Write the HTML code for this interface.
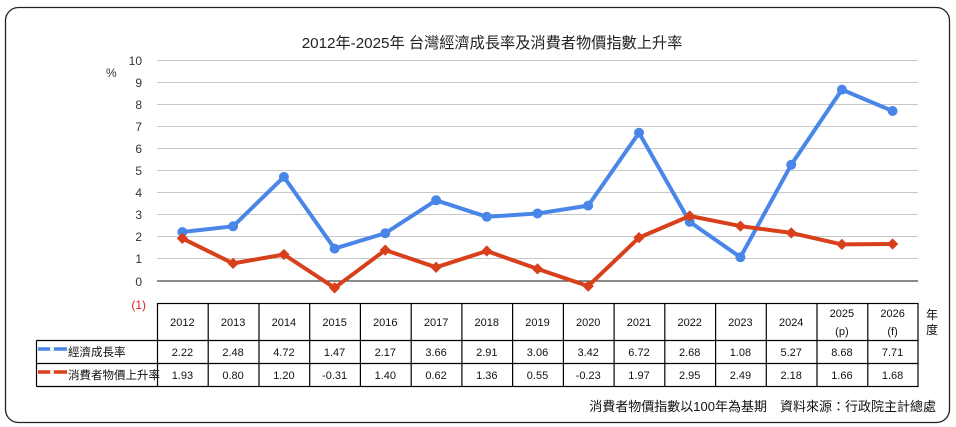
<!DOCTYPE html>
<html><head><meta charset="utf-8"><style>
body{margin:0;background:#fff;}
svg{display:block;font-family:"Liberation Sans","Noto Sans CJK TC",sans-serif;}
</style></head><body>
<svg width="956" height="427" viewBox="0 0 956 427" xmlns="http://www.w3.org/2000/svg">
<rect x="5.5" y="7.5" width="944" height="415" rx="13" fill="#fff" stroke="#222" stroke-width="1.3"/>
<text x="492" y="48" text-anchor="middle" font-size="15.2" fill="#222">2012年-2025年 台灣經濟成長率及消費者物價指數上升率</text>
<text x="106" y="77" font-size="12" fill="#333">%</text>
<g stroke="#c8c8c8" stroke-width="1">
<line x1="157" y1="60.5" x2="918" y2="60.5"/><line x1="157" y1="82.5" x2="918" y2="82.5"/>
<line x1="157" y1="104.5" x2="918" y2="104.5"/><line x1="157" y1="126.5" x2="918" y2="126.5"/>
<line x1="157" y1="148.5" x2="918" y2="148.5"/><line x1="157" y1="170.5" x2="918" y2="170.5"/>
<line x1="157" y1="192.5" x2="918" y2="192.5"/><line x1="157" y1="214.5" x2="918" y2="214.5"/>
<line x1="157" y1="236.5" x2="918" y2="236.5"/><line x1="157" y1="258.5" x2="918" y2="258.5"/>
</g>
<line x1="157" y1="281" x2="918" y2="281" stroke="#444" stroke-width="1.2"/>
<g font-size="12" fill="#333" text-anchor="end">
<text x="142" y="65">10</text><text x="142" y="87">9</text><text x="142" y="109">8</text>
<text x="142" y="131">7</text><text x="142" y="153">6</text><text x="142" y="175">5</text>
<text x="142" y="197">4</text><text x="142" y="219">3</text><text x="142" y="241">2</text>
<text x="142" y="263">1</text><text x="142" y="286">0</text>
<text x="146" y="309" fill="#e02020">(1)</text>
</g>
<polyline fill="none" stroke="#4a86e8" stroke-width="4" stroke-linejoin="round" points="182.4,232 233.1,226.3 283.9,176.9 334.6,248.6 385.3,233.2 436.1,200.3 486.8,216.8 537.5,213.5 588.2,205.6 639,132.8 689.7,221.9 740.4,257.2 791.2,164.8 841.9,89.6 892.6,111"/>
<g fill="#4a86e8">
<circle cx="182.4" cy="232" r="5"/><circle cx="233.1" cy="226.3" r="5"/><circle cx="283.9" cy="176.9" r="5"/><circle cx="334.6" cy="248.6" r="5"/><circle cx="385.3" cy="233.2" r="5"/><circle cx="436.1" cy="200.3" r="5"/><circle cx="486.8" cy="216.8" r="5"/><circle cx="537.5" cy="213.5" r="5"/><circle cx="588.2" cy="205.6" r="5"/><circle cx="639" cy="132.8" r="5"/><circle cx="689.7" cy="221.9" r="5"/><circle cx="740.4" cy="257.2" r="5"/><circle cx="791.2" cy="164.8" r="5"/><circle cx="841.9" cy="89.6" r="5"/><circle cx="892.6" cy="111" r="5"/>
</g>
<polyline fill="none" stroke="#d8401c" stroke-width="4" stroke-linejoin="round" points="182.4,238.4 233.1,263.4 283.9,254.5 334.6,287.8 385.3,250.1 436.1,267.3 486.8,251 537.5,268.9 588.2,286.1 639,237.6 689.7,216 740.4,226.1 791.2,232.9 841.9,244.4 892.6,244"/>
<g fill="#d8401c">
<rect x="-4" y="-4" width="8" height="8" transform="translate(182.4,238.4) rotate(45)"/>
<rect x="-4" y="-4" width="8" height="8" transform="translate(233.1,263.4) rotate(45)"/>
<rect x="-4" y="-4" width="8" height="8" transform="translate(283.9,254.5) rotate(45)"/>
<rect x="-4" y="-4" width="8" height="8" transform="translate(334.6,287.8) rotate(45)"/>
<rect x="-4" y="-4" width="8" height="8" transform="translate(385.3,250.1) rotate(45)"/>
<rect x="-4" y="-4" width="8" height="8" transform="translate(436.1,267.3) rotate(45)"/>
<rect x="-4" y="-4" width="8" height="8" transform="translate(486.8,251) rotate(45)"/>
<rect x="-4" y="-4" width="8" height="8" transform="translate(537.5,268.9) rotate(45)"/>
<rect x="-4" y="-4" width="8" height="8" transform="translate(588.2,286.1) rotate(45)"/>
<rect x="-4" y="-4" width="8" height="8" transform="translate(639,237.6) rotate(45)"/>
<rect x="-4" y="-4" width="8" height="8" transform="translate(689.7,216) rotate(45)"/>
<rect x="-4" y="-4" width="8" height="8" transform="translate(740.4,226.1) rotate(45)"/>
<rect x="-4" y="-4" width="8" height="8" transform="translate(791.2,232.9) rotate(45)"/>
<rect x="-4" y="-4" width="8" height="8" transform="translate(841.9,244.4) rotate(45)"/>
<rect x="-4" y="-4" width="8" height="8" transform="translate(892.6,244) rotate(45)"/>
</g>
<g stroke="#000" stroke-width="1.2" fill="none">
<rect x="157.5" y="303.5" width="760.5" height="83"/>
<line x1="36.5" y1="340.5" x2="918" y2="340.5"/>
<line x1="36.5" y1="363.5" x2="918" y2="363.5"/>
<line x1="36.5" y1="340.5" x2="36.5" y2="386.5"/>
<line x1="36.5" y1="386.5" x2="157.5" y2="386.5"/>
<line x1="208.2" y1="303" x2="208.2" y2="387"/><line x1="259" y1="303" x2="259" y2="387"/>
<line x1="309.7" y1="303" x2="309.7" y2="387"/><line x1="360.4" y1="303" x2="360.4" y2="387"/>
<line x1="411.2" y1="303" x2="411.2" y2="387"/><line x1="461.9" y1="303" x2="461.9" y2="387"/>
<line x1="512.6" y1="303" x2="512.6" y2="387"/><line x1="563.4" y1="303" x2="563.4" y2="387"/>
<line x1="614.1" y1="303" x2="614.1" y2="387"/><line x1="664.8" y1="303" x2="664.8" y2="387"/>
<line x1="715.6" y1="303" x2="715.6" y2="387"/><line x1="766.3" y1="303" x2="766.3" y2="387"/>
<line x1="817" y1="303" x2="817" y2="387"/><line x1="867.8" y1="303" x2="867.8" y2="387"/>
</g>
<line x1="38" y1="349" x2="67" y2="349" stroke="#4a86e8" stroke-width="3.5"/>
<circle cx="52" cy="349" r="2" fill="#fff"/>
<line x1="38" y1="372" x2="67" y2="372" stroke="#d8401c" stroke-width="3.5"/>
<circle cx="52" cy="372" r="2" fill="#fff"/>
<g font-size="11.5" fill="#111">
<text x="68" y="356">經濟成長率</text>
<text x="68" y="379">消費者物價上升率</text>
</g>
<g font-size="11" fill="#111" text-anchor="middle">
<text x="182.4" y="326">2012</text><text x="233.1" y="326">2013</text><text x="283.9" y="326">2014</text>
<text x="334.6" y="326">2015</text><text x="385.3" y="326">2016</text><text x="436.1" y="326">2017</text>
<text x="486.8" y="326">2018</text><text x="537.5" y="326">2019</text><text x="588.2" y="326">2020</text>
<text x="639" y="326">2021</text><text x="689.7" y="326">2022</text><text x="740.4" y="326">2023</text>
<text x="791.2" y="326">2024</text><text x="841.9" y="317">2025</text><text x="841.9" y="335">(p)</text>
<text x="892.6" y="317">2026</text><text x="892.6" y="335">(f)</text>
<text x="182.4" y="356">2.22</text><text x="233.1" y="356">2.48</text><text x="283.9" y="356">4.72</text>
<text x="334.6" y="356">1.47</text><text x="385.3" y="356">2.17</text><text x="436.1" y="356">3.66</text>
<text x="486.8" y="356">2.91</text><text x="537.5" y="356">3.06</text><text x="588.2" y="356">3.42</text>
<text x="639" y="356">6.72</text><text x="689.7" y="356">2.68</text><text x="740.4" y="356">1.08</text>
<text x="791.2" y="356">5.27</text><text x="841.9" y="356">8.68</text><text x="892.6" y="356">7.71</text>
<text x="182.4" y="379">1.93</text><text x="233.1" y="379">0.80</text><text x="283.9" y="379">1.20</text>
<text x="334.6" y="379">-0.31</text><text x="385.3" y="379">1.40</text><text x="436.1" y="379">0.62</text>
<text x="486.8" y="379">1.36</text><text x="537.5" y="379">0.55</text><text x="588.2" y="379">-0.23</text>
<text x="639" y="379">1.97</text><text x="689.7" y="379">2.95</text><text x="740.4" y="379">2.49</text>
<text x="791.2" y="379">2.18</text><text x="841.9" y="379">1.66</text><text x="892.6" y="379">1.68</text>
</g>
<text x="932" y="319" font-size="12" fill="#111" text-anchor="middle">年</text>
<text x="932" y="334" font-size="12" fill="#111" text-anchor="middle">度</text>
<text x="936" y="411" font-size="13" fill="#111" text-anchor="end">消費者物價指數以100年為基期　資料來源：行政院主計總處</text>
</svg>
</body></html>
